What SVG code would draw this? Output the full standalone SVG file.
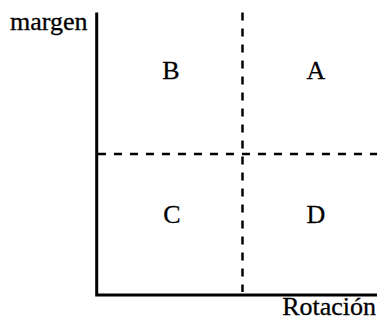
<svg xmlns="http://www.w3.org/2000/svg" width="377" height="320" viewBox="0 0 377 320">
<style>
.t{font-size:26px;fill:#000;stroke:#000;stroke-width:0.3}
.c{text-anchor:middle}
.ax{stroke:#000;stroke-width:3;fill:none}
.dash{stroke:#000;stroke-width:2.5;stroke-dasharray:8 8;fill:none}
</style>
<rect width="377" height="320" fill="#fff"/>
<g id="connectors">
<path class="ax" d="M96.7,12.5 V295 H377"/>
<path class="dash" d="M242.5,12.5 V292"/>
<path class="dash" d="M98,154 H377"/>
</g>
<g font-family="'Liberation Serif', 'DejaVu Serif', serif">
<g id="axis-y"><text class="t" x="10" y="30">margen</text></g>
<g id="axis-x"><text class="t" x="376" y="315" text-anchor="end">Rotación</text></g>
<g id="B"><text class="t c" x="171" y="79">B</text></g>
<g id="A"><text class="t c" x="316" y="79">A</text></g>
<g id="C"><text class="t c" x="172" y="223">C</text></g>
<g id="D"><text class="t c" x="316" y="223">D</text></g>
</g>
</svg>
